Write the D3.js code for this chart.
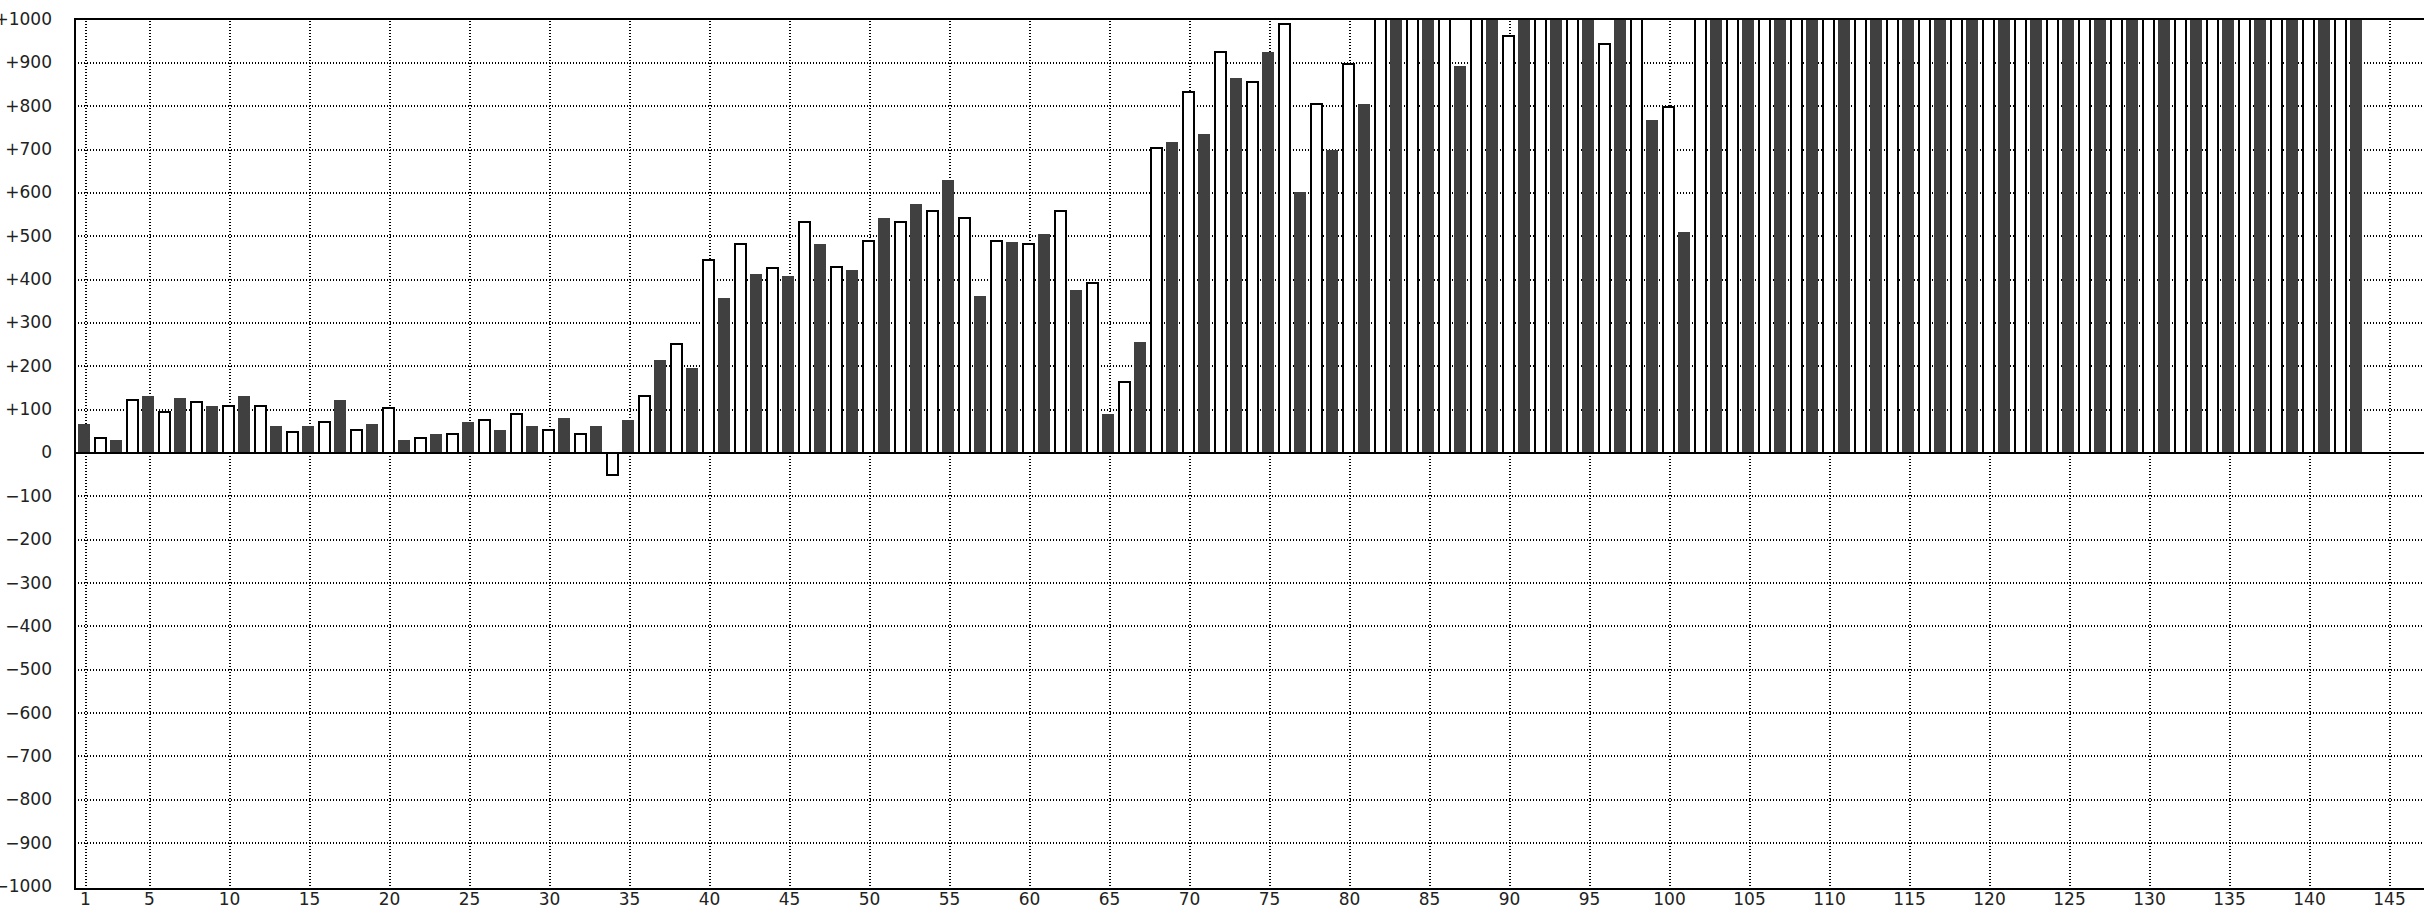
<!DOCTYPE html>
<html>
<head>
<meta charset="utf-8">
<script src="https://cdn.jsdelivr.net/npm/d3@7"></script>
<style>
  html, body { margin: 0; padding: 0; background: #fff; }
  svg { display: block; }
  text { font-family: "DejaVu Sans", sans-serif; }
</style>
</head>
<body>
<svg id="chart" width="2424" height="910"></svg>
<script>
// ---- data ----
const categories = d3.range(1, 144); // bar index 1..143
const values = [
  66, 33, 29, 121, 131, 94, 126, 117, 108, 107,
  131, 107, 62, 47, 62, 70, 122, 52, 66, 102,
  29, 33, 43, 42, 71, 75, 52, 88, 62, 52,
  80, 42, 62, -52, 75, 130, 214, 250, 195, 444,
  357, 480, 412, 425, 408, 531, 482, 429, 422, 489,
  542, 531, 574, 558, 629, 540, 362, 489, 486, 481,
  505, 558, 375, 392, 89, 162, 255, 702, 717, 831,
  735, 923, 865, 855, 925, 988, 602, 803, 698, 896,
  805, 1000, 1000, 1000, 1000, 1000, 892, 1000, 1000, 960,
  1000, 1000, 1000, 1000, 1000, 942, 1000, 1000, 768, 798,
  509, 1000, 1000, 1000, 1000, 1000, 1000, 1000, 1000, 1000,
  1000, 1000, 1000, 1000, 1000, 1000, 1000, 1000, 1000, 1000,
  1000, 1000, 1000, 1000, 1000, 1000, 1000, 1000, 1000, 1000,
  1000, 1000, 1000, 1000, 1000, 1000, 1000, 1000, 1000, 1000,
  1000, 1000, 1000
];
const xTicks = [1, 5, 10, 15, 20, 25, 30, 35, 40, 45, 50, 55, 60, 65, 70, 75, 80, 85, 90, 95,
  100, 105, 110, 115, 120, 125, 130, 135, 140, 145];
const yTicks = [-1000, -900, -800, -700, -600, -500, -400, -300, -200, -100, 0,
  100, 200, 300, 400, 500, 600, 700, 800, 900, 1000];
const yTickLabel = v => v > 0 ? "+" + v : (v < 0 ? "\u2212" + Math.abs(v) : "0");

// ---- layout ----
const svg = d3.select("#chart");
const pL = 75, pT = 19, pB = 889, pR = 2430;

const x = d3.scaleLinear().domain([1, 145]).range([85, 2389]);
const y = d3.scaleLinear().domain([-1000, 1000]).range([886, 19]);

svg.append("rect").attr("width", 2424).attr("height", 910).attr("fill", "#fff");

svg.append("defs").append("clipPath").attr("id", "plotclip")
  .append("rect").attr("x", pL).attr("y", pT).attr("width", pR - pL).attr("height", pB - pT);

// grid (horizontal)
const gridY = svg.append("g")
  .attr("transform", `translate(${pL},0)`)
  .call(d3.axisLeft(y).tickValues(yTicks.filter(v => v !== 0 && Math.abs(v) !== 1000))
    .tickSize(-(pR - pL)).tickFormat(""));
gridY.select(".domain").remove();
gridY.selectAll("line").attr("stroke", "#000").attr("stroke-width", 2)
  .attr("stroke-dasharray", "1,2").attr("shape-rendering", "crispEdges");

// grid (vertical)
const gridX = svg.append("g")
  .attr("transform", `translate(0,${pB})`)
  .call(d3.axisBottom(x).tickValues(xTicks).tickSize(-(pB - pT)).tickFormat(""));
gridX.select(".domain").remove();
gridX.selectAll("line").attr("stroke", "#000").attr("stroke-width", 2)
  .attr("stroke-dasharray", "1,2").attr("shape-rendering", "crispEdges");

// bars
const barsG = svg.append("g").attr("clip-path", "url(#plotclip)");
barsG.selectAll("rect.bar")
  .data(categories.map((c, i) => ({ c, v: values[i] })))
  .join("rect")
  .attr("class", "bar")
  .attr("shape-rendering", "crispEdges")
  .attr("x", d => Math.round(x(d.c)) - (d.c % 2 === 1 ? 7 : 6))
  .attr("width", d => d.c % 2 === 1 ? 12 : 11)
  .attr("y", d => y(Math.max(0, d.v)))
  .attr("height", d => Math.abs(y(d.v) - y(0)))
  .attr("fill", d => d.c % 2 === 1 ? "#404040" : "#fff")
  .attr("stroke", d => d.c % 2 === 1 ? "none" : "#000")
  .attr("stroke-width", 2);

// zero line
svg.append("line").attr("x1", pL).attr("x2", pR).attr("y1", y(0)).attr("y2", y(0))
  .attr("stroke", "#000").attr("stroke-width", 2).attr("shape-rendering", "crispEdges");

// frame
svg.append("path")
  .attr("d", `M${pR},${pT}H${pL}V${pB}H${pR}`)
  .attr("fill", "none").attr("stroke", "#000").attr("stroke-width", 2)
  .attr("shape-rendering", "crispEdges");

// y labels
const yAxis = svg.append("g")
  .attr("transform", `translate(${pL},0)`)
  .call(d3.axisLeft(y).tickValues(yTicks).tickSize(0).tickPadding(23).tickFormat(yTickLabel));
yAxis.select(".domain").remove();
yAxis.selectAll("text").attr("font-family", "DejaVu Sans").attr("font-size", 17).attr("fill", "#222");

// x labels
const xAxis = svg.append("g")
  .attr("transform", `translate(0,${pB})`)
  .call(d3.axisBottom(x).tickValues(xTicks).tickSize(0).tickPadding(4).tickFormat(d => String(d)));
xAxis.select(".domain").remove();
xAxis.selectAll("text").attr("font-family", "DejaVu Sans").attr("font-size", 17).attr("fill", "#222");
</script>
</body>
</html>
